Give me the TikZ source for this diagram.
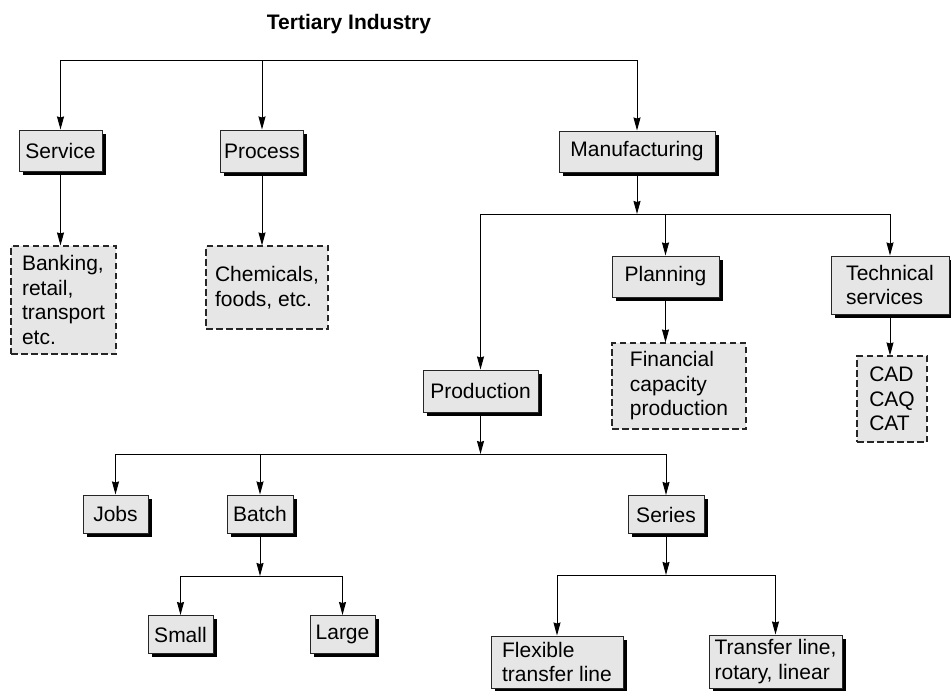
\documentclass[tikz,border=0pt]{standalone}
\usepackage{fontspec}
\setmainfont{Liberation Sans}
\usetikzlibrary{arrows.meta,shadows}
\definecolor{boxgray}{HTML}{E6E6E6}
\begin{document}
\begin{tikzpicture}[x=1pt,y=-1pt,
  font=\fontsize{21pt}{24.5pt}\selectfont,
  box/.style={draw=black!85, line width=1pt, fill=boxgray, inner sep=0pt,
    drop shadow={shadow xshift=3.5pt,shadow yshift=-3.5pt,fill=black,opacity=1}},
  dbox/.style={draw=black!85, line width=1.1pt, dash pattern=on 6.5pt off 3.5pt,
    fill=boxgray, inner sep=0pt},
  arr/.style={line width=1pt, -{Stealth[length=13pt,width=7pt,inset=1pt]}}]
\useasboundingbox (0,0) rectangle (951,691);

\node[font=\fontsize{21pt}{24.5pt}\selectfont\bfseries, anchor=base] (title) at (349,29.5) {Tertiary Industry};

\node[box, minimum width=83pt, minimum height=41pt] (service) at (60.5,150.5) {Service};
\node[box, minimum width=83pt, minimum height=42pt] (process) at (262,151) {Process};
\node[box, minimum width=156pt, minimum height=41pt] (manuf) at (637,151.5) {Manufacturing};

\node[dbox, align=left, minimum width=105pt, minimum height=108pt] (banking) at (63.5,300) {Banking,\\retail,\\transport\\etc.};
\node[dbox, align=left, minimum width=122pt, minimum height=83pt] (chem) at (267,287.5) {Chemicals,\\foods, etc.};

\node[box, minimum width=107pt, minimum height=41pt] (planning) at (665.5,276.5) {Planning};
\node[box, align=left, minimum width=118pt, minimum height=58pt] (tech) at (890,285) {Technical\\services};
\node[dbox, align=left, minimum width=134pt, minimum height=86pt] (fin) at (679,386) {Financial\\capacity\\production};
\node[dbox, align=left, minimum width=70pt, minimum height=86pt] (cad) at (892,399) {CAD\\CAQ\\CAT};

\node[box, minimum width=115pt, minimum height=42pt] (prod) at (480.5,391) {Production};

\node[box, minimum width=65pt, minimum height=38pt] (jobs) at (115.5,514) {Jobs};
\node[box, minimum width=66pt, minimum height=38pt] (batch) at (260,514) {Batch};
\node[box, minimum width=76pt, minimum height=38pt] (series) at (666,514.5) {Series};

\node[box, minimum width=65pt, minimum height=38pt] (small) at (180.5,634.5) {Small};
\node[box, minimum width=65pt, minimum height=38pt] (large) at (342.5,634.5) {Large};
\node[box, align=left, minimum width=132pt, minimum height=52pt] (flex) at (557,662) {Flexible\\transfer line};
\node[box, align=left, minimum width=133pt, minimum height=53pt] (transfer) at (775.5,661.5) {Transfer line,\\rotary, linear};

\coordinate (jtop) at (262,60);
\coordinate (jm) at (637,214);
\coordinate (jp) at (480.5,454);
\coordinate (jb) at (260,576);
\coordinate (js) at (666,575);

\draw[arr] (jtop) -| (service);
\draw[arr] (jtop) -- (process);
\draw[arr] (jtop) -| (manuf);

\draw[arr] (service) -- (service |- banking.north);
\draw[arr] (process) -- (process |- chem.north);

\draw[arr] (manuf) -- (jm);
\draw[arr] (jm) -| (prod);
\draw[arr] (jm) -| (planning);
\draw[arr] (jm) -| (tech);
\draw[arr] (planning) -- (planning |- fin.north);
\draw[arr] (tech) -- (tech |- cad.north);

\draw[arr] (prod) -- (jp);
\draw[arr] (jp) -| (jobs);
\draw[arr] (jp) -| (batch);
\draw[arr] (jp) -| (series);

\draw[arr] (batch) -- (jb);
\draw[arr] (jb) -| (small);
\draw[arr] (jb) -| (large);

\draw[arr] (series) -- (js);
\draw[arr] (js) -| (flex);
\draw[arr] (js) -| (transfer);
\end{tikzpicture}
\end{document}
